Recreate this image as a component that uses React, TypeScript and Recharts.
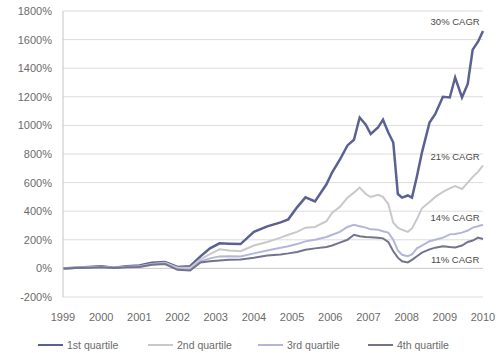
import { LineChart, Line, XAxis, YAxis, CartesianGrid, ReferenceLine, ReferenceDot } from 'recharts';

// sample dates as decimal years
const T = [
  1999.0, 1999.33, 1999.67, 2000.0, 2000.33, 2000.67, 2001.0, 2001.33, 2001.67, 2002.0,
  2002.33, 2002.6, 2002.85, 2003.1, 2003.35, 2003.65, 2004.0, 2004.35, 2004.7, 2004.9,
  2005.13, 2005.35, 2005.6, 2005.9, 2006.05, 2006.25, 2006.45, 2006.62, 2006.77, 2006.93,
  2007.06, 2007.25, 2007.38, 2007.52, 2007.65, 2007.77, 2007.88, 2008.03, 2008.14, 2008.27,
  2008.4, 2008.6, 2008.75, 2008.95, 2009.13, 2009.27, 2009.45, 2009.6, 2009.73, 2009.87, 2010.0,
];

// cumulative return (%) per quartile
const Q1 = [
  0, 5, 10, 15, 5, 15, 20, 40, 45, 10,
  15, 84, 140, 175, 172, 170, 255, 294, 322, 343,
  427, 497, 469, 588, 672, 760, 860, 900, 1055, 1005,
  940, 985, 1040, 950, 880, 520, 495, 510, 495, 645,
  810, 1020, 1080, 1200, 1195, 1335, 1195, 1290, 1530, 1585, 1660,
];
const Q2 = [
  0, 5, 8, 12, 5, 12, 15, 30, 40, 5,
  5, 63, 100, 133, 125, 120, 160, 185, 215, 235,
  255, 285, 290, 330, 390, 430, 495, 530, 565, 520,
  500, 515, 500, 450, 320, 285, 270, 255, 280, 345,
  420, 465, 500, 535, 560, 575, 555, 600, 640, 675, 720,
];
const Q3 = [
  0, 4, 6, 10, 3, 10, 12, 28, 35, -5,
  -10, 49, 70, 84, 85, 84, 105, 125, 145, 155,
  170, 189, 200, 220, 235, 255, 290, 305, 295, 285,
  273, 270, 260, 250, 200, 125, 95, 85, 98, 140,
  160, 190, 200, 215, 238, 240, 250, 265, 285, 295, 305,
];
const Q4 = [
  0, 3, 5, 8, 2, 8, 10, 25, 30, -10,
  -15, 42, 50, 55, 60, 63, 75, 90, 98, 105,
  115, 130, 140, 150, 160, 180, 200, 235, 225, 220,
  218, 215, 210, 185, 120, 75, 50, 42, 60, 85,
  110, 133, 145, 155, 150, 147, 160, 185, 195, 215, 205,
];

const YEARS = [1999, 2000, 2001, 2002, 2003, 2004, 2005, 2006, 2007, 2008, 2009, 2010];
const Y_TICKS = [-200, 0, 200, 400, 600, 800, 1000, 1200, 1400, 1600, 1800];

const SERIES = [
  { key: 'q1', name: '1st quartile', color: '#5b6190', width: 2.5 },
  { key: 'q2', name: '2nd quartile', color: '#c9c9cc', width: 2 },
  { key: 'q3', name: '3rd quartile', color: '#b3b5da', width: 2 },
  { key: 'q4', name: '4th quartile', color: '#73738e', width: 2 },
];

// growth-rate annotations next to each line's end
const CAGR_LABELS = ['30% CAGR', '21% CAGR', '14% CAGR', '11% CAGR'];
const CAGR_Y = [1729, 784, 357, 63];
const CAGR_X = 2009.27;

const data = T.map((t, i) => ({ t, q1: Q1[i], q2: Q2[i], q3: Q3[i], q4: Q4[i] }));

const FONT = '"Liberation Sans", Arial, sans-serif';

export default function App() {
  return (
    <div style={{ position: 'absolute', left: 0, top: 0, width: 498, height: 353, background: '#fff', fontFamily: FONT }}>
      <LineChart width={498} height={353} data={data} margin={{ top: 11, right: 15, bottom: 26, left: 0 }}>
        <CartesianGrid vertical={false} stroke="#dcdcdc" />
        <XAxis
          dataKey="t"
          type="number"
          domain={[1999, 2010]}
          ticks={YEARS}
          height={30}
          axisLine={false}
          tickLine={false}
          tickSize={0}
          tickMargin={16}
          tick={{ fontSize: 11, fill: '#6b6b6b', fontFamily: FONT }}
        />
        <YAxis
          type="number"
          domain={[-200, 1800]}
          ticks={Y_TICKS}
          width={63}
          axisLine={{ stroke: '#c4c4c4' }}
          tickLine={false}
          tickSize={0}
          tickMargin={11}
          tickFormatter={(v: number) => `${v}%`}
          tick={{ fontSize: 11, fill: '#6b6b6b', fontFamily: FONT }}
        />
        <ReferenceLine y={0} stroke="#cfcfcf" />
        {SERIES.map((s) => (
          <Line
            key={s.key}
            type="linear"
            dataKey={s.key}
            name={s.name}
            stroke={s.color}
            strokeWidth={s.width}
            dot={false}
            isAnimationActive={false}
          />
        ))}
        {CAGR_LABELS.map((label, i) => (
          <ReferenceDot
            key={label}
            x={CAGR_X}
            y={CAGR_Y[i]}
            r={0}
            stroke="none"
            fill="none"
            label={{ value: label, position: 'center', fontSize: 9.5, fill: '#4a4a4a', fontFamily: FONT }}
          />
        ))}
      </LineChart>
      <div style={{ position: 'absolute', left: 38, top: 338, display: 'flex', fontSize: 10.5, color: '#6b6b6b' }}>
        {SERIES.map((s) => (
          <div key={s.key} style={{ width: 110, display: 'flex', alignItems: 'center', height: 14 }}>
            <span style={{ display: 'inline-block', width: 25, height: s.width, background: s.color, marginRight: 4 }} />
            <span>{s.name}</span>
          </div>
        ))}
      </div>
    </div>
  );
}
